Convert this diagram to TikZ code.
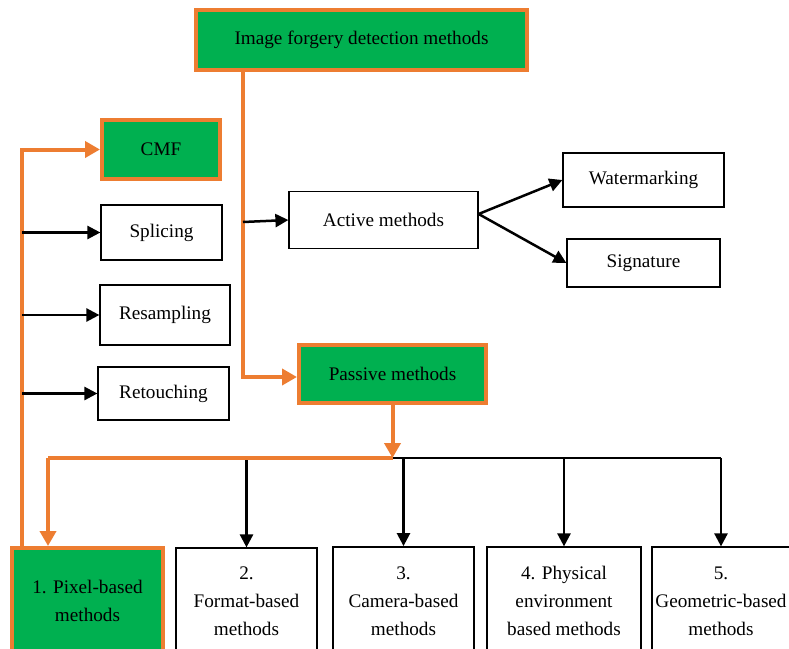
\documentclass[tikz,border=0pt]{standalone}
\usepackage{fontspec}
\setmainfont{Liberation Serif}
\newfontfamily\serifrm{Liberation Serif}
\usetikzlibrary{positioning, arrows.meta, calc}

\definecolor{grn}{RGB}{0,176,80}
\definecolor{orng}{RGB}{237,125,49}

\begin{document}
\begin{tikzpicture}[
			x=1pt, y=-1pt,
			font=\serifrm\fontsize{19.2}{28}\selectfont,
			box/.style={draw, line width=1.2pt, align=center, inner sep=2pt},
			gbox/.style={draw=orng, line width=4pt, fill=grn, align=center, inner sep=2pt},
			arr/.style={line width=2.5pt, -{Triangle[length=13pt, width=13pt]}},
			oline/.style={draw=orng, line width=4pt},
			oarr/.style={oline, -{Triangle[length=15pt, width=16pt]}}
			]
			\clip (0,0) rectangle (789,648);
			\fill[white] (0,0) rectangle (789,648);
			% top
			\node[gbox, minimum width=331, minimum height=60] (top) at (361.5,40) {Image forgery detection methods};
			\node[box, minimum width=189, minimum height=57] (active) at (383.5,220) {Active methods};
			\node[gbox, minimum width=187, minimum height=58] (passive) at (392.5,374) {Passive methods};
			\node[box, minimum width=161, minimum height=54] (water) at (643.5,180) {Watermarking};
			\node[box, minimum width=153, minimum height=48] (sign) at (643.5,263) {Signature};
			% left column
			\node[gbox, minimum width=118, minimum height=59] (cmf) at (161,149.5) {CMF};
			\node[box, minimum width=121, minimum height=55] (splicing) at (161.5,232.5) {Splicing};
			\node[box, minimum width=130, minimum height=60] (resampling) at (165,315) {Resampling};
			\node[box, minimum width=131, minimum height=53] (retouching) at (163.5,393.5) {Retouching};
			% bottom row
			\node[gbox, minimum width=151, minimum height=106] (pixel) at (87.5,601) {1. Pixel-based\\methods};
			\node[box, minimum width=141, minimum height=106] (format) at (246.5,601) {2.\\Format-based\\methods};
			\node[box, line width=1.8pt, minimum width=141, minimum height=108] (camera) at (403.5,601) {3.\\Camera-based\\methods};
			\node[box, minimum width=154, minimum height=108] (physical) at (564,601) {4. Physical\\environment\\based methods};
			\node[box, minimum width=138, minimum height=108] (geometric) at (721,601) {5.\\Geometric-based\\methods};

			\coordinate (trunk) at (243,222);
			\coordinate (bus) at (392.5,458);
			\coordinate (side) at (22,150);
			\coordinate (drop) at (48,458);

			% active / passive
			\draw[oarr] (top.south -| trunk) |- ($(passive.west)+(0,3)$);
			\draw[arr] (trunk) -- (active.west);
			\draw[arr] ($(active.east)+(0,-6)$) -- (water.west);
			\draw[arr] ($(active.east)+(0,-6)$) -- (sign.west);

			% passive branches
			\draw[line width=1.5pt] (bus) -- (geometric.north |- bus);
			\foreach \n in {format,camera,physical,geometric}
				\draw[arr] (\n.north |- bus) -- (\n.north);
			\draw[oarr] (passive.south) -- (bus);
			\draw[oline] (bus) -- (drop);
			\draw[oarr] (drop) -- (drop |- pixel.north);

			% pixel-based
			\draw[oarr] (pixel.north -| side) |- (cmf.west);
			\foreach \n in {splicing,resampling,retouching}
				\draw[arr] (\n.west -| side) -- (\n.west);
		\end{tikzpicture}
\end{document}
